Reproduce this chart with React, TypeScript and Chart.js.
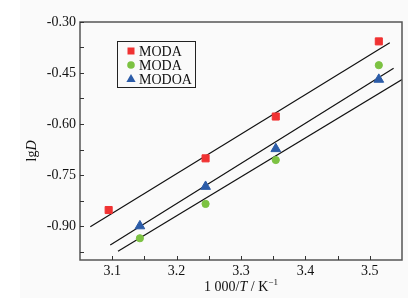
import React, { useEffect, useRef } from 'react';
import { Chart, registerables } from 'chart.js';

Chart.register(...registerables);

const seriesLabels = ['MODA', 'MODA', 'MODOA'];
const seriesColors = ['#f03232', '#7cc242', '#2c5ca8'];
const seriesStyles = ['rect', 'circle', 'triangle'];

const redX = [3.0945, 3.245, 3.354, 3.514];
const redY = [-0.853, -0.701, -0.578, -0.357];
const greenX = [3.143, 3.245, 3.354, 3.514];
const greenY = [-0.936, -0.835, -0.706, -0.427];
const blueX = [3.143, 3.245, 3.354, 3.514];
const blueY = [-0.900, -0.784, -0.673, -0.469];

const redFitX = [3.066, 3.531];
const redFitY = [-0.902, -0.361];
const blueFitX = [3.097, 3.537];
const blueFitY = [-0.956, -0.436];
const greenFitX = [3.109, 3.55];
const greenFitY = [-0.974, -0.469];

const xMajor = [3.1, 3.2, 3.3, 3.4, 3.5];
const xMinor = [3.15, 3.25, 3.35, 3.45];
const yMajor = [-0.3, -0.45, -0.6, -0.75, -0.9];
const yMinor = [-0.375, -0.525, -0.675, -0.825, -0.975];

const FONT = '"Liberation Serif", "Times New Roman", serif';

const pts = (xs: number[], ys: number[]) => xs.map((x, i) => ({ x, y: ys[i] }));

const framePlugin = {
  id: 'frameAndText',
  beforeDraw(chart: any) {
    const ctx = chart.ctx;
    ctx.save();
    ctx.fillStyle = '#fafafa';
    ctx.fillRect(20, 0, 388, 298);
    ctx.restore();
  },
  afterDraw(chart: any) {
    const ctx = chart.ctx;
    const { left, right, top, bottom } = chart.chartArea;
    const xs = chart.scales.x;
    const ys = chart.scales.y;
    ctx.save();
    // frame
    ctx.strokeStyle = '#555';
    ctx.lineWidth = 1.5;
    ctx.strokeRect(left, top, right - left, bottom - top);
    // inner ticks
    ctx.lineWidth = 1;
    ctx.strokeStyle = '#333';
    ctx.beginPath();
    xMajor.concat(xMinor).forEach((v) => {
      const px = Math.round(xs.getPixelForValue(v)) + 0.5;
      ctx.moveTo(px, bottom);
      ctx.lineTo(px, bottom - 4);
    });
    yMajor.concat(yMinor).forEach((v) => {
      const py = Math.round(ys.getPixelForValue(v)) + 0.5;
      ctx.moveTo(left, py);
      ctx.lineTo(left + 4, py);
    });
    ctx.stroke();

    // legend
    const lx = 117, ly = 41, lw = 78, lh = 46;
    ctx.strokeStyle = '#222';
    ctx.lineWidth = 1;
    ctx.strokeRect(lx + 0.5, ly + 0.5, lw, lh);
    const rows = [51, 65, 79];
    ctx.font = '14px ' + FONT;
    ctx.textBaseline = 'middle';
    ctx.textAlign = 'left';
    rows.forEach((ry, i) => {
      const mx = 131;
      ctx.fillStyle = seriesColors[i];
      ctx.beginPath();
      if (seriesStyles[i] === 'rect') {
        ctx.rect(mx - 3.5, ry - 3.5, 7, 7);
      } else if (seriesStyles[i] === 'circle') {
        ctx.arc(mx, ry, 3.8, 0, Math.PI * 2);
      } else {
        ctx.moveTo(mx, ry - 5);
        ctx.lineTo(mx + 4.6, ry + 3);
        ctx.lineTo(mx - 4.6, ry + 3);
        ctx.closePath();
      }
      ctx.fill();
      ctx.fillStyle = '#111';
      ctx.fillText(seriesLabels[i], 139, ry + 1);
    });

    // x title: 1 000/T / K^-1
    ctx.fillStyle = '#111';
    ctx.textBaseline = 'alphabetic';
    const parts: [string, string, number][] = [
      ['1 000/', '14px ' + FONT, 0],
      ['T', 'italic 14px ' + FONT, 0],
      [' / K', '14px ' + FONT, 0],
      ['\u22121', '9px ' + FONT, -6],
    ];
    let total = 0;
    parts.forEach(([t, f]) => {
      ctx.font = f;
      total += ctx.measureText(t).width;
    });
    let cx = (left + right) / 2 - total / 2;
    const baseY = 291;
    parts.forEach(([t, f, dy]) => {
      ctx.font = f;
      ctx.fillText(t, cx, baseY + dy);
      cx += ctx.measureText(t).width;
    });

    // y title: lgD
    ctx.translate(36, 151);
    ctx.rotate(-Math.PI / 2);
    const yParts: [string, string][] = [
      ['lg', '14px ' + FONT],
      ['D', 'italic 14px ' + FONT],
    ];
    let yt = 0;
    yParts.forEach(([t, f]) => {
      ctx.font = f;
      yt += ctx.measureText(t).width;
    });
    let cy = -yt / 2;
    yParts.forEach(([t, f]) => {
      ctx.font = f;
      ctx.fillText(t, cy, 0);
      cy += ctx.measureText(t).width;
    });
    ctx.restore();
  },
};

export default function App() {
  const ref = useRef<HTMLCanvasElement | null>(null);
  useEffect(() => {
    if (!ref.current) return;
    const pointDs = (label: string, xs: number[], ys: number[], i: number, r: number) => ({
      type: 'scatter' as const,
      label,
      data: pts(xs, ys),
      pointStyle: seriesStyles[i],
      pointRadius: r,
      pointBackgroundColor: seriesColors[i],
      pointBorderColor: seriesColors[i],
      pointBorderWidth: 1,
      showLine: false,
      order: 0,
    });
    const lineDs = (label: string, xs: number[], ys: number[]) => ({
      type: 'line' as const,
      label,
      data: pts(xs, ys),
      borderColor: '#111',
      borderWidth: 1.2,
      pointRadius: 0,
      fill: false,
      order: 1,
    });
    const chart = new Chart(ref.current, {
      type: 'scatter',
      data: {
        datasets: [
          lineDs('fit1', redFitX, redFitY),
          lineDs('fit2', blueFitX, blueFitY),
          lineDs('fit3', greenFitX, greenFitY),
          pointDs(seriesLabels[0], redX, redY, 0, 5),
          pointDs(seriesLabels[1], greenX, greenY, 1, 3.6),
          pointDs(seriesLabels[2], blueX, blueY, 2, 5.6),
        ] as any,
      },
      options: {
        animation: false,
        responsive: false,
        maintainAspectRatio: false,
        layout: { padding: { top: 22, right: 18, left: 0, bottom: 0 } },
        plugins: { legend: { display: false }, tooltip: { enabled: false } },
        scales: {
          x: {
            type: 'linear',
            min: 3.05,
            max: 3.55,
            afterBuildTicks: (s: any) => {
              s.ticks = xMajor.map((v) => ({ value: v }));
            },
            afterFit: (s: any) => {
              s.height = 45;
            },
            grid: { display: false, drawTicks: false },
            border: { display: false },
            ticks: {
              padding: 3,
              color: '#111',
              font: { family: FONT, size: 14 },
              callback: (v: any) => Number(v).toFixed(1),
              maxRotation: 0,
            },
          },
          y: {
            type: 'linear',
            min: -1.0,
            max: -0.3,
            afterBuildTicks: (s: any) => {
              s.ticks = yMajor.map((v) => ({ value: v }));
            },
            afterFit: (s: any) => {
              s.width = 80;
            },
            grid: { display: false, drawTicks: false },
            border: { display: false },
            ticks: {
              padding: 4,
              color: '#111',
              font: { family: FONT, size: 14 },
              callback: (v: any) => Number(v).toFixed(2),
            },
          },
        },
      },
      plugins: [framePlugin],
    } as any);
    return () => chart.destroy();
  }, []);
  return (
    <div style={{ position: 'fixed', left: 0, top: 0, width: 420, height: 305 }}>
      <canvas ref={ref} width={420} height={305} style={{ width: 420, height: 305 }} />
    </div>
  );
}
